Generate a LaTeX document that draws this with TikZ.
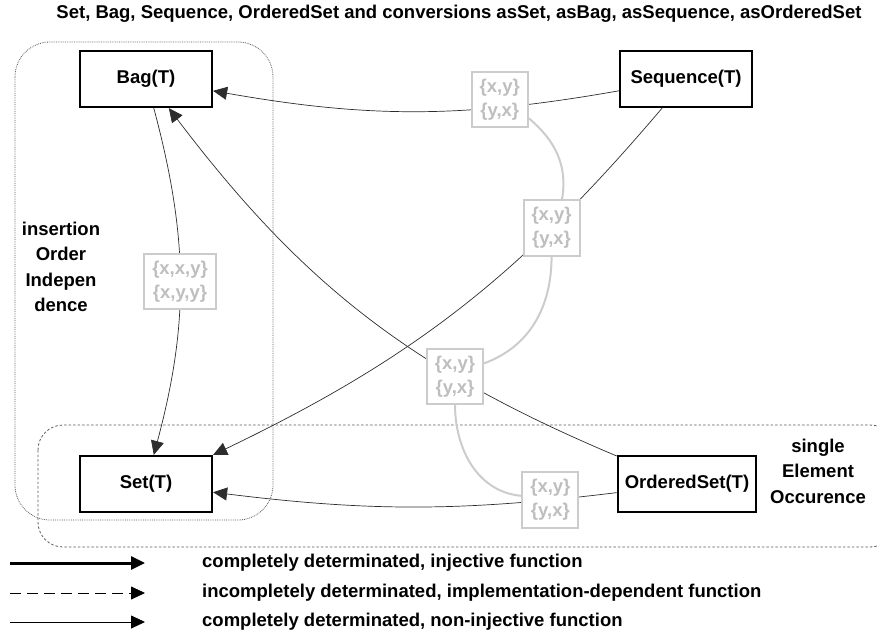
\documentclass[tikz,border=0pt]{standalone}
\usepackage{fontspec}
\setmainfont{Liberation Sans}
\usetikzlibrary{arrows.meta}

\definecolor{pairgray}{RGB}{204,204,204}
\definecolor{pairtext}{RGB}{190,190,190}
\definecolor{convgray}{RGB}{45,45,45}
\definecolor{zonegray}{RGB}{90,90,90}

\begin{document}
\begin{tikzpicture}[x=1pt, y=-1pt,
  >={Triangle[length=14pt,width=13pt]},
  every node/.style={font=\fontsize{18.5}{25.5}\selectfont\bfseries},
  coll/.style={draw, line width=2.2pt, fill=white, minimum width=132pt, minimum height=56pt, inner xsep=7pt},
  pair/.style={draw=pairgray, line width=2pt, fill=white, text=pairtext, align=center, inner xsep=8pt, inner ysep=7pt, font=\fontsize{18.5}{24}\selectfont\bfseries},
  conv/.style={->, draw=convgray, line width=0.7pt},
  same/.style={draw=pairgray, line width=2pt},
  zone/.style={draw=zonegray, line width=0.8pt},
  legA/.style={->, line width=3pt},
  legB/.style={->, line width=0.8pt, dash pattern=on 11pt off 6pt},
  legC/.style={->, line width=0.8pt}]
\useasboundingbox (0,0) rectangle (877,643);

% the two regions
\draw[zone, densely dotted, rounded corners=35pt] (15,42) rectangle (273,520);
\draw[zone, dash pattern=on 2.5pt off 2pt, rounded corners=25pt] (38,425) rectangle (895,547);

\node (title) at (459,14) {Set, Bag, Sequence, OrderedSet and conversions asSet, asBag, asSequence, asOrderedSet};
\node[align=center] (insorder) at (61,267) {insertion\\Order\\Indepen\\dence};
\node[align=center] (single) at (818,471) {single\\Element\\Occurence};

% collection types
\node[coll] (bag) at (146,79) {Bag(T)};
\node[coll] (seq) at (686,79) {Sequence(T)};
\node[coll] (set) at (146,484) {Set(T)};
\node[coll] (oset) at (687,484) {OrderedSet(T)};

% conversions
\draw[conv] (bag) to[bend left=15] node[pair] (bagset) {\{x,x,y\}\\\{x,y,y\}} (set);
\draw[conv] (seq) to[bend left=10] node[pair, pos=0.28, yshift=8pt] (seqbag) {\{x,y\}\\\{y,x\}} (bag);
\draw[conv] (seq) to[bend left=12] node[pair, pos=0.27] (seqset) {\{x,y\}\\\{y,x\}} (set.north east);
\draw[conv] (oset) to[bend left=15] node[pair, pos=0.3] (osetbag) {\{x,y\}\\\{y,x\}} (bag);
\draw[conv] (oset) to[bend left=7] node[pair, pos=0.15] (osetset) {\{x,y\}\\\{y,x\}} (set);

% same orders
\draw[same] (seqbag.-33) to[out=-40, in=80] (seqset.70);
\draw[same] (seqset.south) to[out=-90, in=20] (osetbag.24);
\draw[same] (osetbag.south) to[out=-90, in=175] (osetset.172);

% legend
\foreach \n/\yy/\sty/\txt in {1/563/legA/{completely determinated, injective function},
  2/593/legB/{incompletely determinated, implementation-dependent function},
  3/622/legC/{completely determinated, non-injective function}} {
  \coordinate (from\n) at (10,\yy);
  \coordinate (to\n) at (145,\yy);
  \node[anchor=west, inner xsep=0pt] (leg\n) at (202,\yy) {\txt};
  \draw[\sty] (from\n) -- (to\n);
}
\end{tikzpicture}
\end{document}
